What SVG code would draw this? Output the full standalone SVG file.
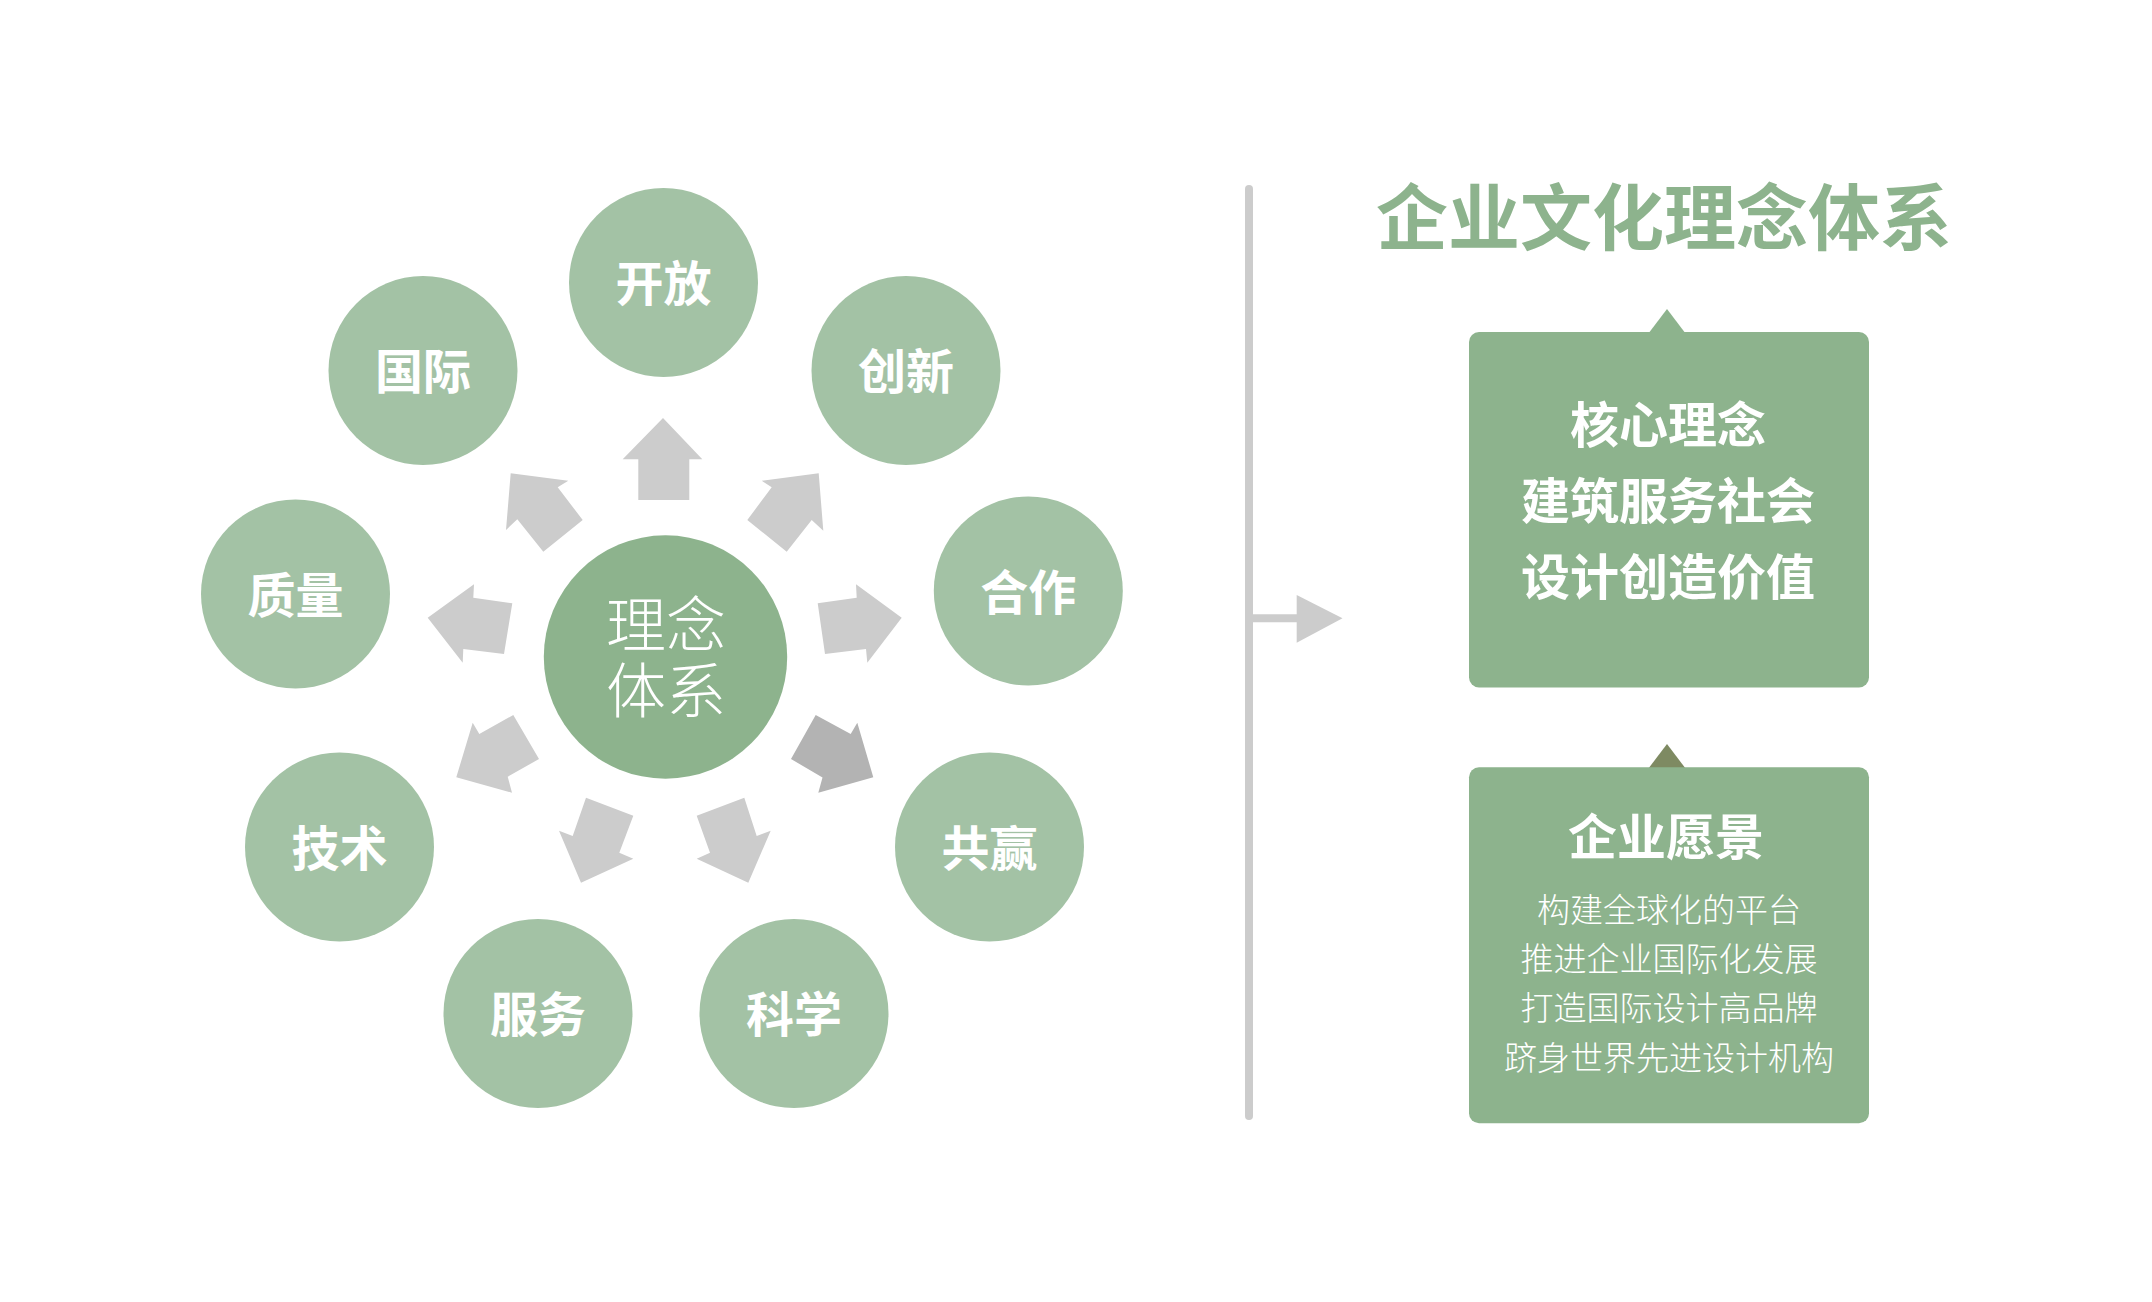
<svg xmlns="http://www.w3.org/2000/svg" width="2152" height="1302" viewBox="0 0 2152 1302">
<defs>
<style>
.bg{fill:#ffffff}
.node{fill:#a3c2a5}
.hub{fill:#8db38d}
.arr{fill:#cccccc}
.arrd{fill:#b3b3b3}
.lbl{font-family:"Noto Sans CJK SC","Noto Sans",sans-serif;font-weight:700;font-size:48px;fill:#ffffff;text-anchor:middle}
.hubt{font-family:"Noto Sans CJK SC","Noto Sans",sans-serif;font-weight:300;font-size:60px;fill:#ffffff;text-anchor:middle}
.title{font-family:"Noto Sans CJK SC","Noto Sans",sans-serif;font-weight:700;font-size:72px;fill:#8db38d;text-anchor:middle}
.box{fill:#8db38d}
.bt{font-family:"Noto Sans CJK SC","Noto Sans",sans-serif;font-weight:700;font-size:49px;fill:#ffffff;text-anchor:middle}
.st{font-family:"Noto Sans CJK SC","Noto Sans",sans-serif;font-weight:300;font-size:33px;fill:#ffffff;text-anchor:middle}
</style>
</defs>
<rect class="bg" x="0" y="0" width="2152" height="1302"/>

<g id="connectors">
<polygon class="arr" points="663,418 702.3,459.3 689.3,459.3 689.3,500 638.3,500 638.3,459.3 622.7,459.3"/>
<polygon class="arr" points="510.7,473.3 568.3,480.7 557.7,487.3 582.7,520 543.3,551.7 517.3,519.3 506,530"/>
<polygon class="arr" points="818.7,473.3 761.7,480.7 771.7,487.3 747.3,520 786.7,551.7 811.7,520 823.3,530.7"/>
<polygon class="arr" points="427.7,617.7 474,584.3 473.3,597.7 512.3,603.3 504,654 463.3,649 462.7,662.7"/>
<polygon class="arr" points="901.7,617.7 856,584.3 856.7,597.7 817.7,603.3 825,654 866,649 867.3,662.7"/>
<polygon class="arr" points="513.3,715 539,759 507.7,776.7 512,792.7 456.3,777.3 472.7,722.7 479.3,734"/>
<polygon class="arrd" points="815.7,715 791,759 822.5,777.5 818.3,792.7 873.3,777.3 857.3,722.7 850.7,734"/>
<polygon class="arr" points="586,797.7 633.3,815.7 619.3,852.7 633.3,858.7 581,882.7 559,830.7 572.7,836"/>
<polygon class="arr" points="744.3,797.7 696.7,815.7 710,852.7 696.7,858.7 748.3,882.7 770.7,830.7 756.7,836"/>
<line x1="1249" y1="189" x2="1249" y2="1116" stroke="#cccccc" stroke-width="8" stroke-linecap="round"/>
<line x1="1249" y1="618.3" x2="1298" y2="618.3" stroke="#cccccc" stroke-width="8"/>
<polygon class="arr" points="1296.7,595 1342.5,618.3 1296.7,642.7"/>
</g>

<g id="hub">
<circle class="hub" cx="665.5" cy="657" r="121.7"/>
<text class="hubt" x="666" y="646.5">理念</text>
<text class="hubt" x="666" y="712.5">体系</text>
</g>

<g id="n-kaifang"><circle class="node" cx="663.5" cy="282.5" r="94.5"/><text class="lbl" x="663.5" y="301">开放</text></g>
<g id="n-guoji"><circle class="node" cx="423" cy="370.5" r="94.5"/><text class="lbl" x="423" y="389">国际</text></g>
<g id="n-chuangxin"><circle class="node" cx="906" cy="370.5" r="94.5"/><text class="lbl" x="906" y="389">创新</text></g>
<g id="n-zhiliang"><circle class="node" cx="295.5" cy="594" r="94.5"/><text class="lbl" x="295.5" y="612.5">质量</text></g>
<g id="n-hezuo"><circle class="node" cx="1028.3" cy="591" r="94.5"/><text class="lbl" x="1028.3" y="609.5">合作</text></g>
<g id="n-jishu"><circle class="node" cx="339.5" cy="847" r="94.5"/><text class="lbl" x="339.5" y="865.5">技术</text></g>
<g id="n-gongying"><circle class="node" cx="989.5" cy="847" r="94.5"/><text class="lbl" x="989.5" y="865.5">共赢</text></g>
<g id="n-fuwu"><circle class="node" cx="538" cy="1013.5" r="94.5"/><text class="lbl" x="538" y="1032">服务</text></g>
<g id="n-kexue"><circle class="node" cx="794" cy="1013.5" r="94.5"/><text class="lbl" x="794" y="1032">科学</text></g>

<g id="title"><text class="title" x="1664" y="243.5">企业文化理念体系</text></g>

<g id="box-core">
<polygon class="box" points="1648.8,333 1667,309 1685.2,333"/>
<rect class="box" x="1469" y="332" width="400" height="355.5" rx="10" ry="10"/>
<text class="bt" x="1668" y="443">核心理念</text>
<text class="bt" x="1668" y="518.5">建筑服务社会</text>
<text class="bt" x="1668" y="594.5">设计创造价值</text>
</g>

<g id="box-vision">
<polygon fill="#7e8a62" points="1648.8,768 1667,744 1685.2,768"/>
<rect class="box" x="1469" y="767.2" width="400" height="356" rx="10" ry="10"/>
<text class="bt" x="1666" y="854.5">企业愿景</text>
<text class="st" x="1669" y="922">构建全球化的平台</text>
<text class="st" x="1669" y="970.5">推进企业国际化发展</text>
<text class="st" x="1669" y="1020">打造国际设计高品牌</text>
<text class="st" x="1669" y="1069.5">跻身世界先进设计机构</text>
</g>
</svg>
